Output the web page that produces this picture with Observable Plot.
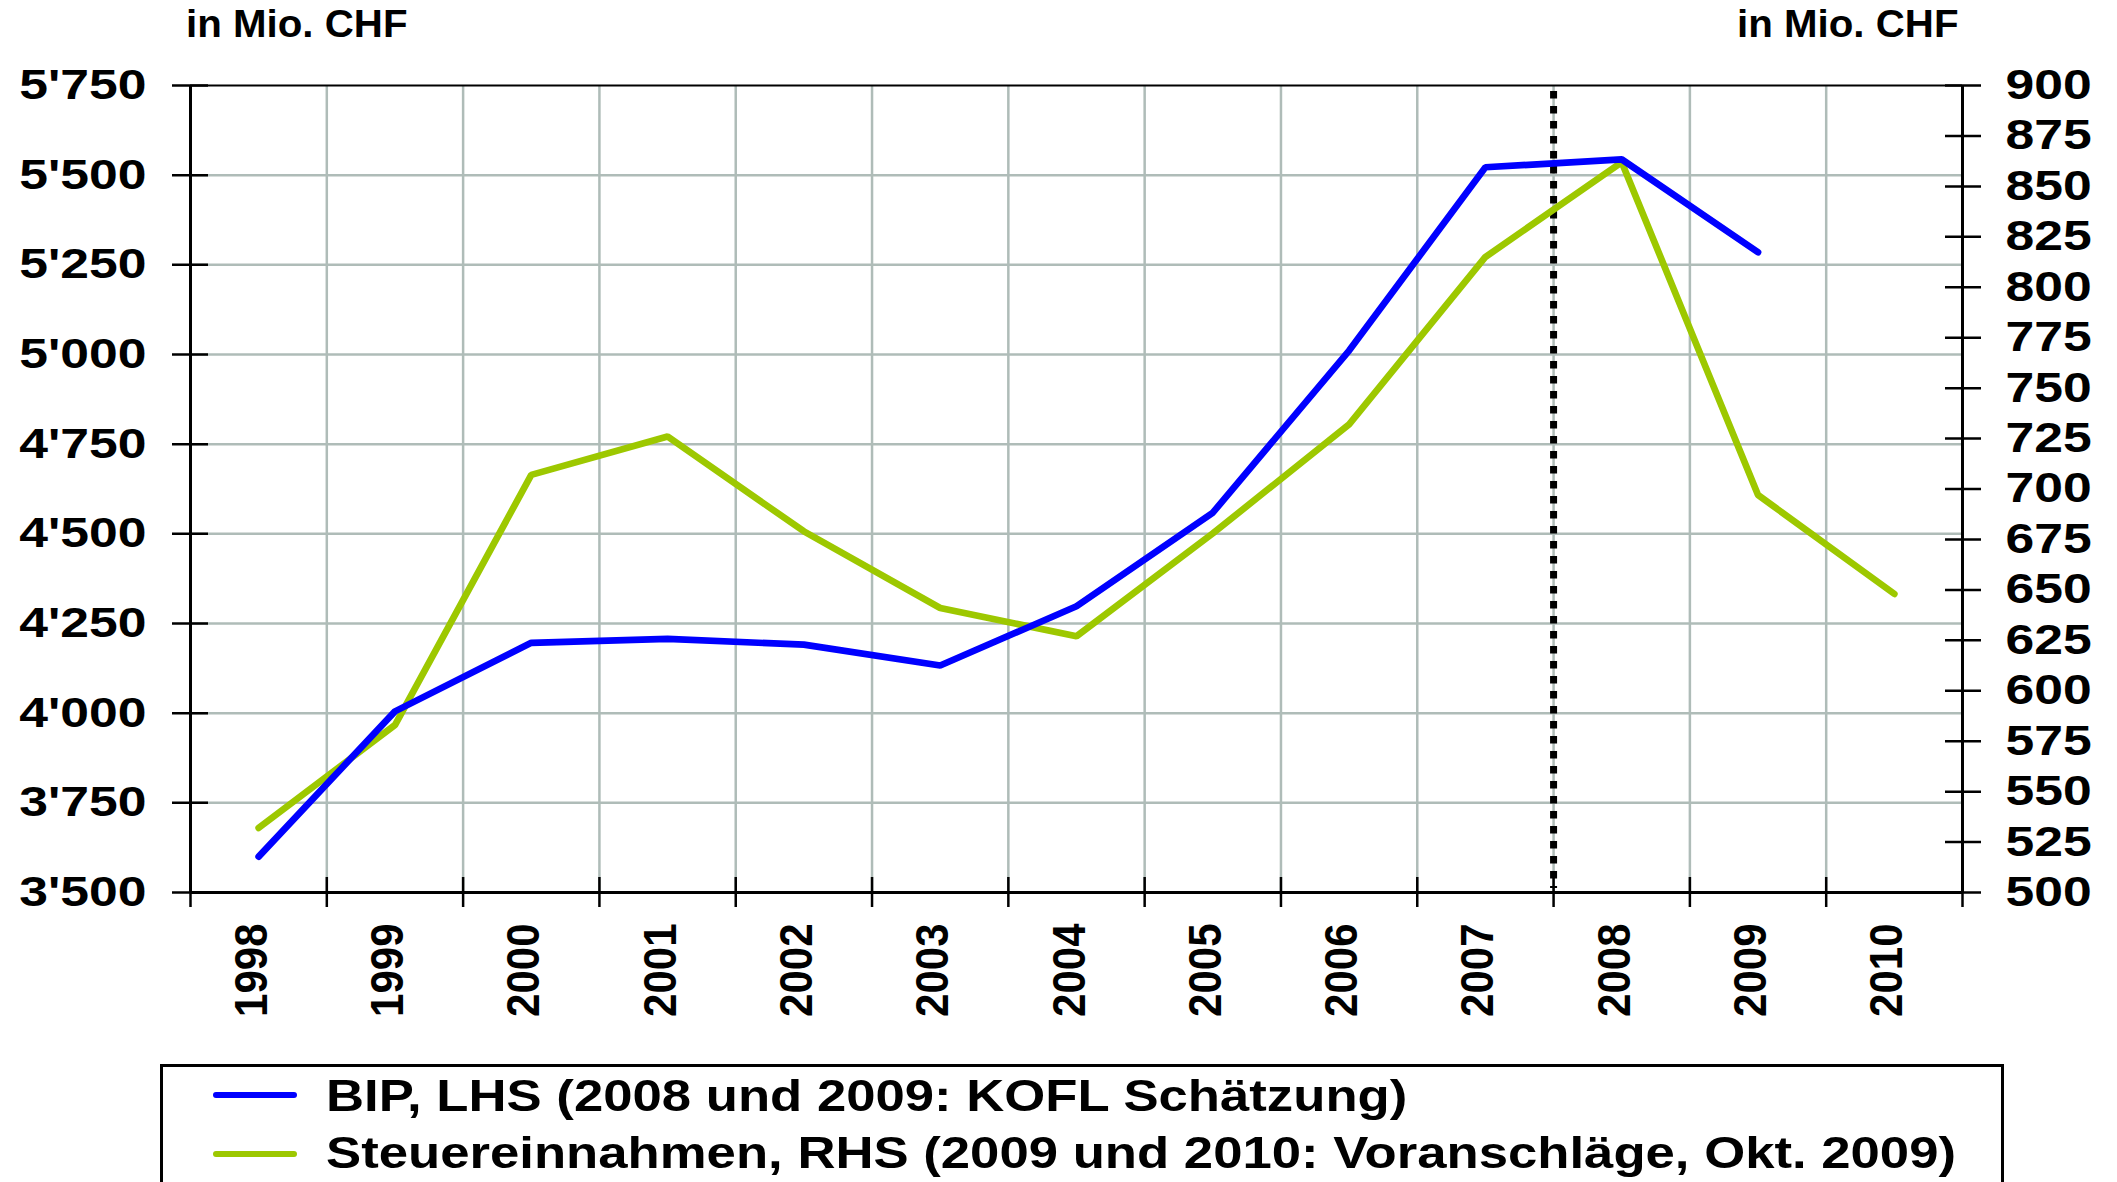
<!DOCTYPE html>
<html>
<head>
<meta charset="utf-8">
<script src="https://cdn.jsdelivr.net/npm/d3@7"></script>
<script src="https://cdn.jsdelivr.net/npm/@observablehq/plot@0.6"></script>
<style>
  html, body { margin: 0; padding: 0; background: #fff; }
  #wrap { position: relative; width: 2117px; height: 1182px; overflow: hidden; background: #fff;
          font-family: "Liberation Sans", Arial, sans-serif; font-weight: bold; color: #000; }
  .ttl { position: absolute; font-size: 38px; line-height: 38px; white-space: nowrap;
         transform: scaleX(1.06); transform-origin: 0 0; }
  #chart { position: absolute; left: 0; top: 50px; }
  #legbox { position: absolute; left: 160px; top: 1064px; width: 1838px; height: 160px; border: 3px solid #000; }
  .legtxt { position: absolute; font-size: 44.5px; line-height: 44.5px; white-space: nowrap;
            transform: scaleX(1.184); transform-origin: 0 0; }
  .legline { position: absolute; width: 84px; height: 6px; border-radius: 3px; }
</style>
</head>
<body>
<div id="wrap">
  <div class="ttl" style="left:186px; top:5px;">in Mio. CHF</div>
  <div class="ttl" style="left:1737px; top:5px;">in Mio. CHF</div>
  <div id="chart"></div>
  <div id="legbox"></div>
  <div id="legend"></div>
</div>
<script>
// ---- data ----
const years = [1998, 1999, 2000, 2001, 2002, 2003, 2004, 2005, 2006, 2007, 2008, 2009, 2010];
const bipYears = [1998, 1999, 2000, 2001, 2002, 2003, 2004, 2005, 2006, 2007, 2008, 2009];
const bip = [3600, 4005, 4196, 4207, 4191, 4133, 4298, 4559, 5011, 5522, 5544, 5285];
const steuer = [532, 583, 707, 726, 679, 641, 627, 678, 732, 815, 862, 697, 648];
const leftTicks = [3500, 3750, 4000, 4250, 4500, 4750, 5000, 5250, 5500, 5750];
const rightTicks = [500, 525, 550, 575, 600, 625, 650, 675, 700, 725, 750, 775, 800, 825, 850, 875, 900];
const bounds = [1997.5, 1998.5, 1999.5, 2000.5, 2001.5, 2002.5, 2003.5, 2004.5, 2005.5, 2006.5, 2007.5, 2008.5, 2009.5, 2010.5];
const cutYear = [2007.5];
const seriesNames = ["BIP, LHS (2008 und 2009: KOFL Schätzung)",
                     "Steuereinnahmen, RHS (2009 und 2010: Voranschläge, Okt. 2009)"];
const seriesColors = ["#0000ff", "#9dc800"];

// ---- dual axis mapping (right scale onto left scale) ----
const L0 = leftTicks[0], L1 = leftTicks[leftTicks.length - 1];
const R0 = rightTicks[0], R1 = rightTicks[rightTicks.length - 1];
const toLeft = v => L0 + (v - R0) * (L1 - L0) / (R1 - R0);
const fromLeft = y => R0 + (y - L0) * (R1 - R0) / (L1 - L0);
const swiss = d => String(Math.round(d)).replace(/\B(?=(\d{3})+(?!\d))/g, "'");

const bipData = bipYears.map((year, i) => ({year, value: bip[i]}));
const stData = years.map((year, i) => ({year, value: toLeft(steuer[i])}));

const gridStyle = {stroke: "#afbcb8", strokeOpacity: 1, strokeWidth: 2.5};
const font = {fontSize: 42, fontWeight: "bold", fill: "#000"};

const chart = Plot.plot({
  width: 2117,
  height: 990,
  marginTop: 35,
  marginBottom: 148,
  marginLeft: 190,
  marginRight: 155,
  style: {fontFamily: "'Liberation Sans', Arial, sans-serif", fontWeight: "bold", background: "white", color: "#000"},
  x: {domain: [bounds[0], bounds[bounds.length - 1]], label: null},
  y: {domain: [L0, L1], label: null},
  marks: [
    Plot.gridX(bounds.slice(1, -1), gridStyle),
    Plot.gridY(leftTicks.slice(1, -1), gridStyle),
    Plot.ruleX(cutYear, {stroke: "#000", strokeWidth: 7, strokeDasharray: "7.5,7.5", insetTop: 6, insetBottom: 4}),
    Plot.line(stData, {x: "year", y: "value", stroke: seriesColors[1], strokeWidth: 6.7, strokeLinecap: "round", strokeLinejoin: "miter"}),
    Plot.line(bipData, {x: "year", y: "value", stroke: seriesColors[0], strokeWidth: 6.7, strokeLinecap: "round", strokeLinejoin: "miter"}),
    Plot.ruleX([bounds[0], bounds[bounds.length - 1]], {stroke: "#000", strokeWidth: 3}),
    Plot.ruleY([L0], {stroke: "#000", strokeWidth: 3}),
    Plot.ruleY([L1], {stroke: "#000", strokeWidth: 2.2}),
    // crossing tick marks
    Plot.axisY(leftTicks, {anchor: "left", tickSize: 36, dx: 18, tickFormat: () => "", label: null, strokeWidth: 2.5, stroke: "#000"}),
    Plot.axisY(rightTicks.map(toLeft), {anchor: "right", tickSize: 36, dx: -18, tickFormat: () => "", label: null, strokeWidth: 2.5, stroke: "#000"}),
    Plot.axisX(bounds, {anchor: "bottom", tickSize: 30, dy: -15, tickFormat: () => "", label: null, strokeWidth: 2.5, stroke: "#000"}),
    // tick labels
    Plot.axisY(leftTicks, {anchor: "left", tickSize: 0, tickPadding: 44, tickFormat: swiss, label: null, ...font}),
    Plot.axisY(rightTicks.map(toLeft), {anchor: "right", tickSize: 0, tickPadding: 43, tickFormat: d => String(Math.round(fromLeft(d))), label: null, ...font}),
    Plot.axisX(years, {anchor: "bottom", tickSize: 0, tickPadding: 31, tickRotate: -90, dx: -7, tickFormat: d => String(d), label: null, ...font})
  ]
});
document.getElementById("chart").appendChild(chart);

// widen tick labels like in the reference
function stretch(sel, s) {
  chart.querySelectorAll(sel).forEach(t => {
    const tr = t.getAttribute("transform");
    if (tr) {
      t.setAttribute("transform", tr + " " + s);
    } else {
      const x = +t.getAttribute("x") || 0, y = +t.getAttribute("y") || 0;
      t.setAttribute("x", 0); t.setAttribute("y", 0);
      t.setAttribute("transform", `translate(${x},${y}) ${s}`);
    }
  });
}
stretch('g[aria-label="y-axis tick label"] text', "scale(1.23,1)");
stretch('g[aria-label="x-axis tick label"] text', "scale(1,1.12)");

// legend
const leg = document.getElementById("legend");
const rowLineTop = [1092, 1151];
const rowTextTop = [1074.3, 1131];
seriesNames.forEach((name, i) => {
  const ln = document.createElement("div");
  ln.className = "legline";
  ln.style.left = "213px";
  ln.style.top = rowLineTop[i] + "px";
  ln.style.background = seriesColors[i];
  leg.appendChild(ln);
  const tx = document.createElement("div");
  tx.className = "legtxt";
  tx.style.left = "326px";
  tx.style.top = rowTextTop[i] + "px";
  tx.textContent = name;
  leg.appendChild(tx);
});
</script>
</body>
</html>
